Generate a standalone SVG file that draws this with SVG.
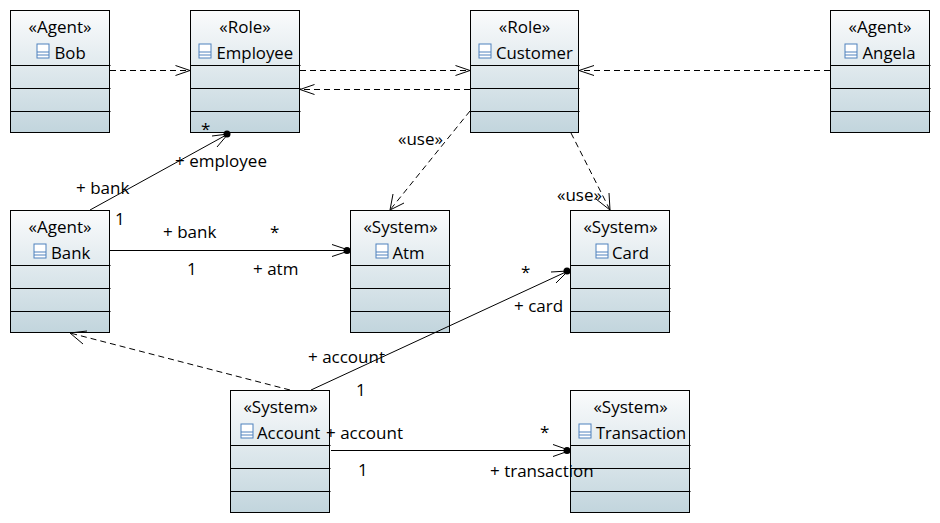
<svg xmlns="http://www.w3.org/2000/svg" width="940" height="523" viewBox="0 0 940 523">
<style>
text{font-family:"Open Sans","Noto Sans","Liberation Sans",sans-serif;font-size:17px;fill:#000}
.c{text-anchor:middle}
.n{font-size:16.800px}
.b{fill:url(#g);stroke:none}
.o{fill:none;stroke:#000;stroke-width:1}
.i{fill:#fff;stroke:#4f81bd;stroke-width:1}
.d{fill:none;stroke:#000;stroke-width:1;stroke-dasharray:6 4}
.s{fill:none;stroke:#000;stroke-width:1}
.h{fill:none;stroke:#000;stroke-width:1}
</style>
<defs>
<linearGradient id="g" x1="0" y1="0" x2="0" y2="1"><stop offset="0" stop-color="#fafbfc"/><stop offset="1" stop-color="#c2d5dd"/></linearGradient>
<g id="ic"><rect class="i" x="0.500" y="0.500" width="12" height="14"/><path class="i" d="M0.500 8.500H12.500M0.500 11.500H12.500"/></g>
<g id="bx"><rect class="b" x="0" y="0" width="99" height="122"/><path class="o" d="M0 55H100M0 78H100M0 101H100"/></g>
</defs>
<g id="bob" transform="translate(10.500 10.500)"><use href="#bx"/><rect class="o" width="99" height="122"/><text class="c" x="49.500" y="22">«Agent»</text><use href="#ic" x="26" y="33"/><text class="n" x="44" y="48">Bob</text></g>
<g id="employee" transform="translate(190.500 10.500)"><rect class="b" width="109" height="122"/><path class="o" d="M0 55H110M0 78H110M0 101H110"/><rect class="o" width="109" height="122"/><text class="c" x="54.500" y="22">«Role»</text><use href="#ic" x="8" y="33"/><text class="n" x="26" y="48">Employee</text></g>
<g id="customer" transform="translate(470.500 10.500)"><rect class="b" width="108" height="122"/><path class="o" d="M0 55H109M0 78H109M0 101H109"/><rect class="o" width="108" height="122"/><text class="c" x="54" y="22">«Role»</text><use href="#ic" x="8" y="33"/><text class="n" x="25.500" y="48">Customer</text></g>
<g id="angela" transform="translate(830.500 10.500)"><use href="#bx"/><rect class="o" width="99" height="122"/><text class="c" x="49.500" y="22">«Agent»</text><use href="#ic" x="14" y="33"/><text class="n" x="32" y="48">Angela</text></g>
<g id="bank" transform="translate(10.500 210.500)"><use href="#bx"/><rect class="o" width="99" height="122"/><text class="c" x="49.500" y="22">«Agent»</text><use href="#ic" x="23" y="33"/><text class="n" x="40.500" y="48">Bank</text></g>
<g id="atm" transform="translate(350.500 210.500)"><use href="#bx"/><rect class="o" width="99" height="122"/><text class="c" x="50" y="22">«System»</text><use href="#ic" x="25" y="33"/><text class="n" x="42" y="48">Atm</text></g>
<g id="card" transform="translate(570.500 210.500)"><use href="#bx"/><rect class="o" width="99" height="122"/><text class="c" x="50" y="22">«System»</text><use href="#ic" x="25" y="33"/><text class="n" x="41.500" y="48">Card</text></g>
<g id="account" transform="translate(230.500 390.500)"><use href="#bx"/><rect class="o" width="99" height="122"/><text class="c" x="50" y="22">«System»</text><use href="#ic" x="10" y="33"/><text class="n" x="26.500" y="48">Account</text></g>
<g id="transaction" transform="translate(570.500 390.500)"><rect class="b" width="119" height="122"/><path class="o" d="M0 55H120M0 78H120M0 101H120"/><rect class="o" width="119" height="122"/><text class="c" x="60" y="22">«System»</text><use href="#ic" x="8" y="33"/><text class="n" x="25.500" y="48" style="font-size:16.500px">Transaction</text></g>
<g id="connectors">
<path class="d" d="M110 70.500H190"/><path class="h" d="M175.500 65.500L190 70.500L175.500 75.500"/>
<path class="d" d="M300 70.500H470"/><path class="h" d="M455.500 65.500L470 70.500L455.500 75.500"/>
<path class="d" d="M470 89.500H300"/><path class="h" d="M314.500 84.500L300 89.500L314.500 94.500"/>
<path class="d" d="M830 70.500H579"/><path class="h" d="M594 65.500L579 70.500L594 75.500"/>
<path class="d" d="M470 111L390 210"/><path class="h" d="M393 194L390 210L404 203"/>
<path class="d" d="M571 133L610 210"/><path class="h" d="M596 199L610 210L609 193"/>
<path class="d" d="M290 390L70 333"/><path class="h" d="M83 344L70 333L87 331"/>
<path class="s" d="M90 210L228 134"/><path class="h" d="M212 136L228 134L217 147"/><circle cx="227" cy="134" r="3.500"/>
<path class="s" d="M110 250.500H350"/><path class="h" d="M332 244.500L350 250.500L332 256.500"/><circle cx="347" cy="250.500" r="3.500"/>
<path class="s" d="M311 390L568 271"/><path class="h" d="M551 272L568 271L556 283"/><circle cx="567" cy="271" r="3.500"/>
<path class="s" d="M331 450.500H570"/><path class="h" d="M553 444.500L570 450.500L553 456.500"/><circle cx="567" cy="450.500" r="3.500"/>
</g>
<g id="labels">
<text x="201" y="135">*</text><text x="175" y="167">+ employee</text><text x="76" y="194">+ bank</text><text x="115" y="225">1</text>
<text x="163" y="238">+ bank</text><text x="270" y="238">*</text><text x="187" y="275">1</text><text x="253" y="275">+ atm</text>
<text x="398" y="145">«use»</text><text x="557" y="201">«use»</text>
<text x="521" y="278">*</text><text x="514" y="312">+ card</text><text x="308" y="363">+ account</text><text x="356" y="396">1</text>
<text x="326" y="439">+ account</text><text x="358" y="476">1</text><text x="540" y="438">*</text><text x="490" y="477">+ transaction</text>
</g>
</svg>
